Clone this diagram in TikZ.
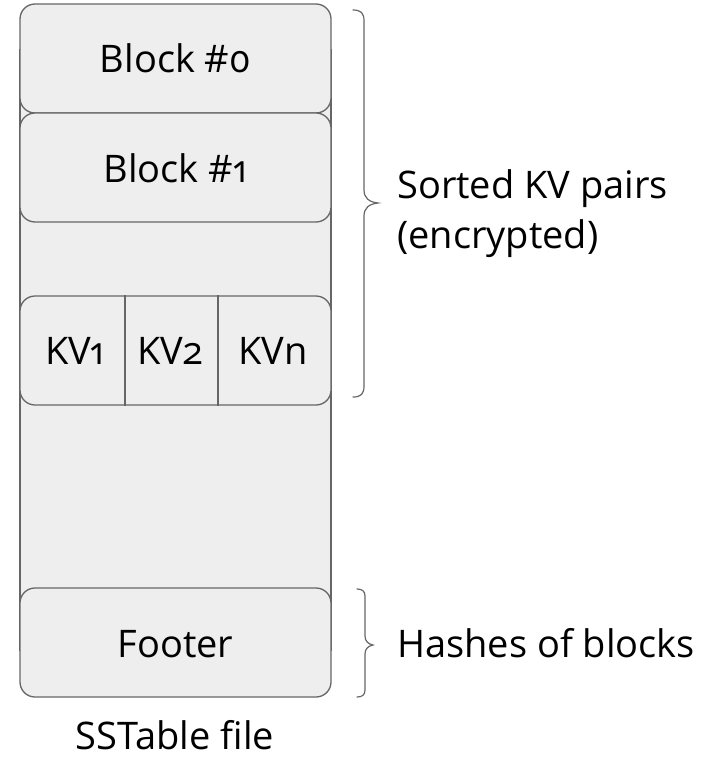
\documentclass[tikz,border=0pt]{standalone}
\usepackage{fontspec}
\setmainfont{Open Sans}[Numbers=OldStyle]
\definecolor{linegray}{HTML}{666666}
\definecolor{boxfill}{HTML}{EEEEEE}
\begin{document}
\begin{tikzpicture}[x=1pt,y=-1pt,
  txt/.style={font=\fontsize{38}{46}\selectfont, inner sep=0pt},
  container/.style={draw=linegray, line width=1.3pt, fill=boxfill,
    minimum width=311pt, inner sep=0pt},
  blockbox/.style={draw=linegray, line width=1.3pt, fill=boxfill,
    rounded corners=15pt, minimum width=311pt, minimum height=109pt,
    inner sep=0pt},
  divider/.style={draw=linegray, line width=1.3pt},
  bracepath/.style={draw=linegray, line width=1.2pt, line cap=round}
]
\useasboundingbox (0,0) rectangle (714,760);

% the file body behind the blocks
\node[container, minimum height=600pt] (file) at (175.5,350) {};

% data blocks
\node[blockbox] (b0) at (175.5,58.5) {};
\node[txt, anchor=base] (b0t) at (b0.center |- 0,73) {Block \#0};
\node[blockbox] (b1) at (175.5,167.5) {};
\node[txt, anchor=base] (b1t) at (b1.center |- 0,182) {Block \#1};

% a block split into key/value pairs
\node[blockbox] (kvrow) at (175.5,350.5) {};
\coordinate (d1) at (125,350.5);
\coordinate (d2) at (218,350.5);
\draw[divider] (kvrow.north -| d1) -- (kvrow.south -| d1);
\draw[divider] (kvrow.north -| d2) -- (kvrow.south -| d2);
\node[txt, anchor=base] (kv1) at (75,364) {KV1};
\node[txt, anchor=base] (kv2) at (170,364) {KV2};
\node[txt, anchor=base] (kvn) at (273,364) {KVn};

% footer
\node[blockbox] (foot) at (175.5,642.5) {};
\node[txt, anchor=base] (foott) at (foot.center |- 0,657) {Footer};

% caption
\node[txt, anchor=base] (cap) at (175,749) {SSTable file};

% braces
\draw[bracepath] (353,10) .. controls (361,10) and (364,13) .. (364,21)
  -- (364,190) .. controls (364,198) and (369,202) .. (378,203)
  .. controls (369,204) and (364,208) .. (364,216)
  -- (364,386) .. controls (364,394) and (361,397) .. (353,397);
\draw[bracepath] (357,589) .. controls (362,589) and (365,591) .. (365,596)
  -- (365,636) .. controls (365,641) and (368,644) .. (373,645)
  .. controls (368,646) and (365,649) .. (365,654)
  -- (365,690) .. controls (365,695) and (362,697) .. (357,697);

% brace labels
\node[txt, anchor=base west] (sorted) at (397,198) {Sorted KV pairs};
\node[txt, anchor=base west] (enc) at (397,248) {(encrypted)};
\node[txt, anchor=base west] (hashes) at (397,657) {Hashes of blocks};
\end{tikzpicture}
\end{document}
